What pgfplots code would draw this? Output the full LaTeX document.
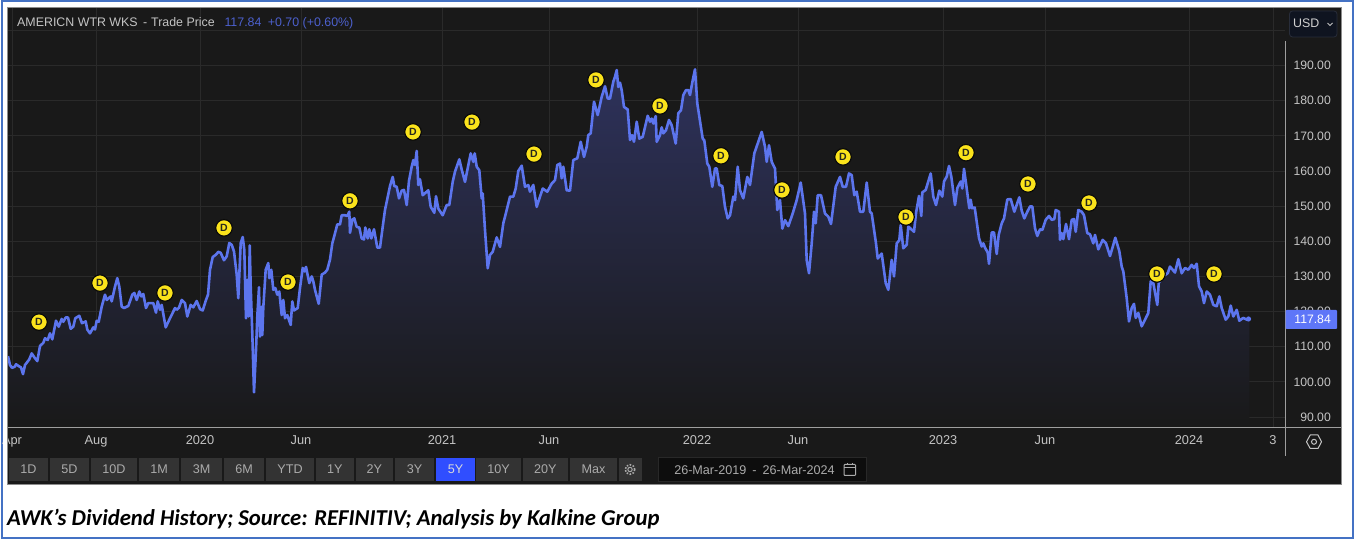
\documentclass[border=0pt]{standalone}
\usepackage{fontspec}
\setmainfont{Liberation Sans}
\newfontfamily\capfont{Carlito}
\usepackage{pgfplots}
\usepackage{pgfplotstable}
\pgfplotsset{compat=1.18}
\definecolor{panel}{HTML}{191919}
\definecolor{gridc}{HTML}{2A2A2A}
\definecolor{linec}{HTML}{5C75EE}
\definecolor{btn}{HTML}{333333}
\definecolor{btntxt}{HTML}{ABABAB}
\definecolor{lbl}{HTML}{C4C4C4}
\definecolor{frame}{HTML}{4472C4}
\definecolor{areatop}{RGB}{46,50,92}
\definecolor{badge}{RGB}{251,227,27}
\definecolor{badgeedge}{RGB}{10,10,10}
\definecolor{badgetxt}{RGB}{40,40,30}
\definecolor{headblue}{RGB}{76,96,205}
\definecolor{usdbg}{RGB}{15,20,32}
\definecolor{usdedge}{RGB}{40,45,58}
\definecolor{tagc}{RGB}{94,118,248}
\definecolor{sel}{RGB}{48,78,255}
\definecolor{datebg}{RGB}{13,13,13}
\definecolor{dateedge}{RGB}{40,40,40}
\pgfplotstableread{
x y
8 107.3
10 104.8
12 104
14.7 104.3
16 105
18.7 104.5
21 104.1
23 102.2
25 104.8
29.3 106.4
31.7 108.1
34.3 107
37.3 105.9
40 110.2
43.3 111.1
45 112.4
47.7 111.9
50 113.8
52.3 112.1
56 117.4
58.7 115.7
61.7 117.9
63.3 117.1
65.7 118.3
68 118.3
70.7 115.1
73.3 115.7
75.3 118.1
79.3 118.8
82 116.7
85.7 117.2
87.3 114.9
90 113.8
93.3 115.5
95 114.9
96.7 117.4
98.7 117.1
101.7 121.4
105 124.8
106.7 123.3
110.7 124.3
111.7 122.9
115 127.1
117.3 129.5
119.3 127.1
121.7 121.4
124 121
128.3 121.6
132.3 124.8
134.3 125.3
136.7 123.3
139.3 125.7
141.3 124.3
143.3 125
146 121
148.3 122.4
153.3 122.4
156 119.7
157.7 122.9
160 120.5
161.7 121.9
165.7 115.5
170 118.1
173.3 120
175 121
176.7 120.5
179 121.1
181.7 123.3
185 122.4
187.3 118.6
190.7 121.9
193.3 121.2
196.7 123
200 120.7
202.7 120.3
206 123.3
208 124.8
210 131.9
212.7 135.5
216 136.2
218.3 137
220.7 136.7
224 134.6
226.7 135.7
229.3 139.5
231.7 139
234 137.1
236.7 130.5
238.3 123.8
240.7 139.5
242.7 141.2
244.3 137.6
246 118.1
247.3 129
248.7 118.6
249.7 138.8
250.7 127.1
252.3 113.8
254 97
256 109
257.3 118.6
259 126.9
260 112.9
261.7 121.4
262.3 113.3
263.3 121.2
265.7 131.9
268.3 133.8
269.3 129.5
271.3 131.9
273.3 126.2
275.3 126.7
277.3 124.8
279.3 125.7
281.7 119
283.3 123.3
285 118.1
287.3 119
290.7 116.2
292.3 122.9
294 120.3
297.7 121
300 126.7
302.7 132.4
304.7 131.4
306 132.7
309.3 128.1
311.7 130
313.3 128.6
315 126.2
318.7 122.2
321.7 130.5
325 131.1
327.3 131.9
330 134.8
332.3 139.4
334.3 141.5
337.3 144.8
340 144.8
341.7 147.4
345 147.4
347.3 147.2
349.3 148.4
350 142.4
352.3 146.2
354.3 146.5
356.7 144.1
359.3 143.9
361.7 140.8
364 140.5
365.3 143.9
367.7 140.8
369.3 143.4
371.3 140.8
374 143.4
377.3 138.2
380 138.2
382.7 144.1
385 148.9
390 155.7
392.7 158.3
394.3 155.7
396.7 155.5
399 152.2
401.7 154.4
404 154.6
406.7 150.3
409 157.2
411.7 161.2
413.3 163.1
415 161.7
416.7 165.7
418.3 156
420 157.6
422.7 153.1
428.3 154.5
430.7 149.8
434.3 148.1
436 152.8
438.3 149.3
442.7 147.4
446.7 150.3
449.3 150.3
452.7 156.9
455 159.8
459.3 163.3
461.7 160.4
465 156.9
469 162.6
470.7 165
473.3 162.6
474.7 165
476.7 161.2
479.3 160.2
481.7 152.2
482.7 153.6
485 143.2
487.7 132.3
490 136.1
492.7 137
496.7 141.1
500 138.4
503.3 145.1
506.7 148.9
510 152.7
513.3 152.7
515.7 155
518.3 160
521.7 161.5
525 155.5
528.3 156
530 154.1
533.3 156
536.7 149.8
540 152.7
542.7 155
547.3 154.1
551.7 156.4
555 157.4
557.3 161.7
560 162.1
561.7 157.9
563.3 161.2
566.7 154.5
570 154.4
573.3 163.1
577.3 163.6
580.7 168.3
584 164
586.7 166.9
588.3 170.2
590.7 170.7
594 179.7
597.7 175.9
601.7 181.1
605 184.1
607.7 180.6
610 180.6
613.3 185.4
615 186.8
616.7 188.7
618.3 183.9
620 185.1
621.7 183
624 178.2
627.7 177.5
630 168.8
632 170.2
634 168.3
636.7 174
639.3 169.2
642.7 169.7
647.7 175.7
650 174
651.7 174.9
653.3 173.5
655.7 175.6
656.7 168.3
660 170.2
661.7 172.4
663.3 170.7
666 171.6
669 174.5
671.7 173
675.7 167.8
678.3 176.4
681 177.3
683.3 181.6
686 183
688.3 183
690 181.6
692.7 185.8
695 188.9
697.3 179.2
702.7 169.2
704.3 168.7
707.3 162.1
709.3 161.2
712.3 155.5
715 160.7
716.7 160.7
719.3 156
722.3 155.7
725 149.8
727.7 146.5
730 147.4
733.3 152.7
735 151.7
737.7 161.2
740 154.5
743.3 152.2
747.3 158.3
750 156
754.3 165
758.3 168.3
761.7 171.1
765 166.9
766.7 162.6
769 167.3
771.7 162.6
775 160.7
777.3 148.9
780 151.7
782.3 143.6
785 146
788.3 144.3
792.7 147.9
796.7 151.7
800.7 156.7
805 147.9
806.7 134.6
809 130.9
811.7 139.4
814 148.4
815.7 145.1
817.7 153.1
821 153.1
825 147.9
828.3 147
831 144.9
835.7 155.5
840 158.3
842.7 155.5
846 155.5
849 159.3
851.7 158.8
854.3 153.1
856.7 154.1
860 148.4
863.3 148.4
866.7 156.7
870 148.4
871.7 147.9
876 139.4
877.7 135.1
881.7 136.5
885.7 128.1
888.3 126.2
891.7 134.7
894 130
896.7 139.4
899.3 140.3
900.7 144.6
903.3 138
906.7 139
908.3 144.2
914 142.7
916 148
919 152.9
921.3 147.2
922.3 153.9
925.7 154.6
930.7 159.3
933.3 152.7
936 150.3
939.3 154.4
942.3 152.7
944 157
946.7 158.4
949 161.4
951.3 158.4
955 150.3
957.3 155.1
960.7 157
962.3 155
964 160.6
966 156.5
969.3 149.4
970.7 151.8
972 149.4
974.7 149.6
979 140.9
981.7 138.5
983.3 139.4
985.3 138
987.7 136.8
989 133.6
991.7 142.5
994 142.5
996.7 136.4
998.7 141.8
1001.7 145.1
1004 146.5
1007.3 151.9
1010.7 152
1014.3 148.4
1019.3 152.5
1021.7 148.7
1024.3 146.5
1027.3 148.4
1030 149.9
1032.3 149.9
1035 143.7
1037.3 141.5
1040 143.4
1042.3 143.2
1045.7 146.1
1049 147.2
1051.7 146.1
1054.3 146.3
1055.7 148.9
1059 148.4
1060 140.4
1061.7 142.3
1063.3 140.6
1066 144.9
1069 140.6
1071.7 146.1
1074 146.3
1075.7 142.7
1078.3 148.9
1081.7 148.4
1084 147.4
1087.3 142.3
1090 142
1093.3 139.4
1095 141.8
1098.3 137.7
1102.7 140.4
1106 139.4
1110 135.8
1112.3 138
1115.3 141
1119.3 137.2
1121.7 132.8
1123.3 131.4
1126.7 123.8
1129 117.2
1131.7 121
1134 122.2
1135.7 118.2
1138.3 119.6
1141.7 115.8
1145 117.7
1148.3 119.6
1150.7 128.6
1153.3 128.1
1157.3 121.9
1158.7 128.1
1163 130
1167.7 130.9
1170 132.8
1175 131.1
1178.3 134.9
1181.7 130.9
1185 132.4
1188.3 131.9
1191.7 133.3
1194 132.4
1196.7 133.6
1199 127.2
1201.7 125.7
1204 122.4
1206.7 125.7
1210 124.8
1213.3 121.9
1216.7 121.5
1219.3 124.3
1221.7 121
1225.7 117.7
1228.3 118.6
1230.7 121.7
1233.3 118.6
1236.7 120.5
1239.3 117.4
1243.3 118.2
1246.7 117.7
1249.3 117.84
}\pricedata
\pgfplotstableread{
x y
39 117.0
100 128.1
165 125.3
224 143.8
288 128.4
350 151.5
413 171.1
472 173.9
534 164.8
596 185.9
660 178.5
721 164.3
782 154.6
843 164
906 146.9
966 165.2
1028 156.3
1089 150.9
1157 130.7
1214 130.7
}\divdata
\newcommand{\btn}[3]{%
  \fill[btn] (#1,458) rectangle (#2,481);
  \node[text=btntxt,font=\fontsize{12.6}{14}\selectfont,inner sep=0pt,anchor=center] at ({(#1+#2)/2},469.5) {#3};}
\begin{document}
\begin{tikzpicture}
\begin{scope}[x=1pt,y=-1pt,yshift=540pt]
\path[use as bounding box] (0,0) rectangle (1354,540);
\fill[white] (0,0) rectangle (1354,540);
\draw[frame,line width=2pt] (1.5,1.5) rectangle (1352.5,538.5);
\fill[panel] (7,7) rectangle (1341,484);
\end{scope}
\begin{axis}[
  at={(8pt,113pt)},anchor=south west,
  scale only axis,width=1277pt,height=419pt,
  xmin=8,xmax=1285,ymin=87.16,ymax=206.36,
  axis line style={draw=none},
  tick style={draw=none},
  grid=major,grid style={gridc,line width=0.8pt},
  xtick={12,96,200,301,442,549,697,798,943,1045,1189,1273},
  xticklabels={Apr,Aug,2020,Jun,2021,Jun,2022,Jun,2023,Jun,2024,3},
  ytick={90,100,110,120,130,140,150,160,170,180,190,200},
  yticklabels={90.00,100.00,110.00,120.00,130.00,140.00,150.00,160.00,170.00,180.00,190.00,{}},
  yticklabel pos=right,
  xticklabel style={anchor=center,yshift=-15pt,text=lbl,inner sep=0pt,text height=8.5pt,text depth=2.5pt,font=\fontsize{12.8}{14}\selectfont},
  yticklabel style={anchor=east,xshift=46pt,text=lbl,inner sep=0pt,font=\fontsize{12.2}{14}\selectfont},
]
\addplot[draw=none,top color=areatop,bottom color=panel] table[x=x,y=y]{\pricedata} \closedcycle;
\addplot[linec,line width=2.6pt,line join=round] table[x=x,y=y]{\pricedata};
\addplot[only marks,mark=*,mark size=8.3pt,mark options={fill=badge,draw=badgeedge,line width=1.2pt},
  nodes near coords={\textbf{D}},
  every node near coord/.style={anchor=center,inner sep=0pt,text=badgetxt,font=\fontsize{10.5}{11}\selectfont}]
  table[x=x,y=y]{\divdata};
\end{axis}
\begin{scope}[x=1pt,y=-1pt,yshift=540pt]
% clip the Apr label at panel edge
\fill[white] (3,430) rectangle (7,455);
% axes
\draw[white!62!black,line width=1pt] (7,427.5) -- (1341,427.5);
\draw[white!62!black,line width=1pt] (1285.5,41) -- (1285.5,456);
\draw[white!55!black,line width=0.8pt] (7,7) rectangle (1341,484);
% header
\node[anchor=base west,inner sep=0pt,text=lbl,font=\fontsize{12.4}{14}\selectfont] at (17,27) {AMERICN WTR WKS};
\node[anchor=base west,inner sep=0pt,text=lbl,font=\fontsize{12.4}{14}\selectfont] at (143,27) {-};
\node[anchor=base west,inner sep=0pt,text=lbl,font=\fontsize{12.4}{14}\selectfont] at (151,27) {Trade Price};
\node[anchor=base west,inner sep=0pt,text=headblue,font=\fontsize{12.4}{14}\selectfont] at (224.3,27) {117.84};
\node[anchor=base west,inner sep=0pt,text=headblue,font=\fontsize{12.4}{14}\selectfont] at (267.7,27) {+0.70 (+0.60\%)};
% USD
\draw[fill=usdbg,draw=usdedge,rounded corners=3pt,line width=0.8pt] (1289.5,11) rectangle (1337,37);
\node[anchor=base west,inner sep=0pt,text=white!82!black,font=\fontsize{12.4}{14}\selectfont] at (1293,28) {USD};
\draw[white!75!black,line width=0.8pt] (1327.5,23) -- (1330,25.5) -- (1332.5,23);
% last price tag
\fill[tagc,rounded corners=1pt] (1285.5,310) rectangle (1337,329);
\node[anchor=east,inner sep=0pt,text=white,font=\fontsize{12.2}{14}\selectfont] at (1331,319.5) {117.84};
\fill[linec] (1248.5,319) circle (2.6);
% settings hexagon
\draw[lbl,line width=1pt,line join=round] (1306.5,441.8) -- (1310.2,435) -- (1318,435) -- (1321.5,441.8) -- (1318,448.5) -- (1310.2,448.5) -- cycle;
\draw[lbl,line width=1pt] (1314,441.8) circle (2.5);
% range buttons
\btn{9}{48}{1D}
\btn{50}{89}{5D}
\btn{91}{137}{10D}
\btn{139}{179}{1M}
\btn{181}{222}{3M}
\btn{224}{264}{6M}
\btn{266}{314}{YTD}
\btn{315.5}{354}{1Y}
\btn{355.5}{393}{2Y}
\btn{395}{434}{3Y}
\fill[sel] (436,458) rectangle (475,481);
\node[text=white!85!black,font=\fontsize{12.6}{14}\selectfont,inner sep=0pt] at (455.5,469.5) {5Y};
\btn{476}{521}{10Y}
\btn{522.5}{568}{20Y}
\btn{570}{617}{Max}
\fill[btn] (618.5,458) rectangle (642,481);
\draw[btntxt,line width=1pt] (630,469.5) circle (2.2);
\draw[btntxt,line width=1.6pt,dash pattern=on 1.6pt off 1.5pt] (630,469.5) circle (4.8);
% date box
\draw[fill=datebg,draw=dateedge,line width=0.8pt] (658.5,457) rectangle (866.5,481);
\node[anchor=center,inner sep=0pt,text=btntxt,font=\fontsize{12.6}{14}\selectfont] at (754.5,470) {26-Mar-2019\hspace{6pt}-\hspace{6pt}26-Mar-2024};
\draw[btntxt,line width=1pt,rounded corners=0.8pt] (844,464.5) rectangle (855.5,475.5);
\draw[btntxt,line width=1pt] (844,467.5) -- (855.5,467.5) (847,463) -- (847,465) (852.5,463) -- (852.5,465);
% caption
\node[anchor=base west,inner sep=0pt,text=black,font=\capfont\bfseries\itshape\fontsize{22.7}{24}\selectfont] at (7,526) {AWK’s Dividend History; Source: REFINITIV; Analysis by Kalkine Group};
\end{scope}
\end{tikzpicture}
\end{document}
